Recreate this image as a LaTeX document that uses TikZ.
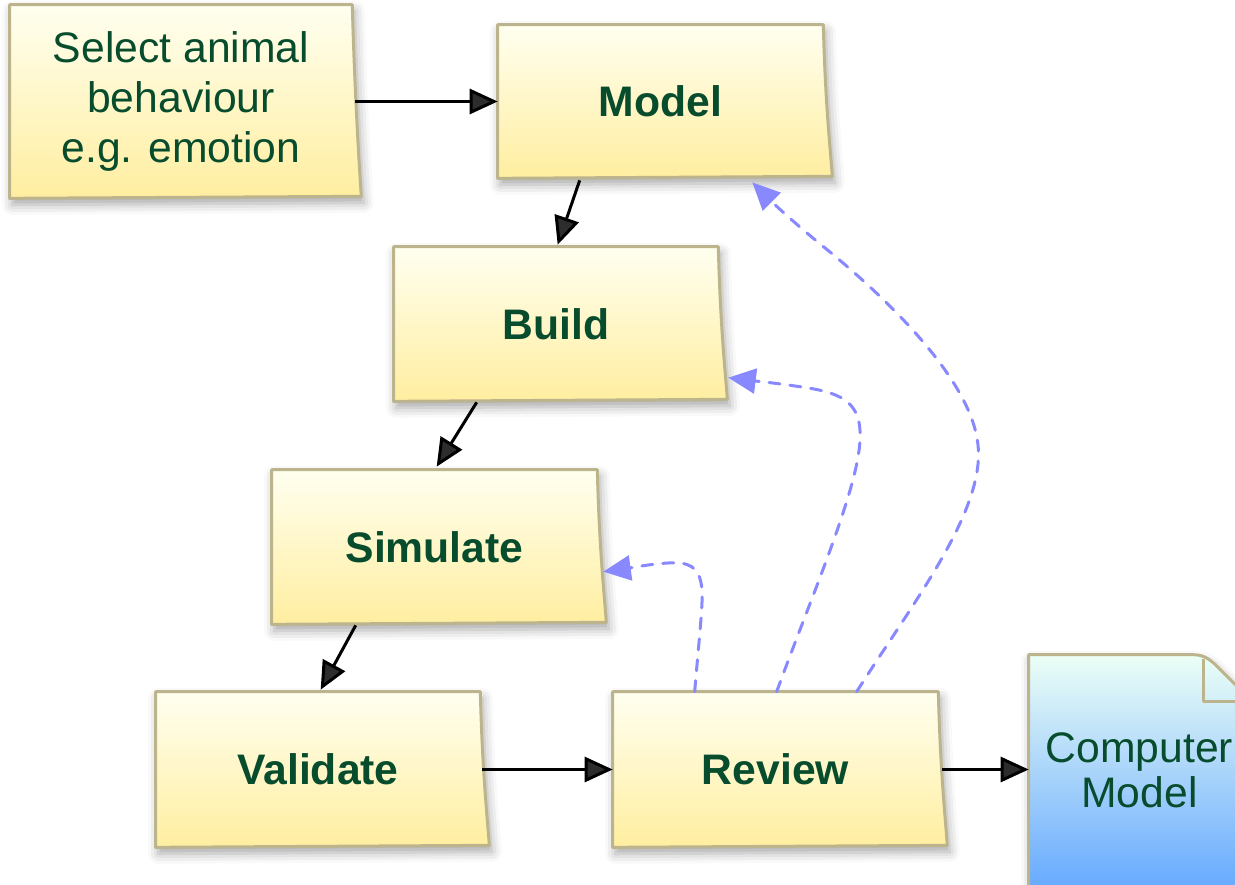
\documentclass[tikz,border=0pt]{standalone}
\usepackage{fontspec}
\setmainfont{Liberation Sans}
\usetikzlibrary{arrows.meta,calc,shadows.blur,backgrounds}

\definecolor{ink}{RGB}{8,76,46}
\definecolor{edge}{RGB}{188,180,140}
\definecolor{noteTop}{RGB}{255,255,240}
\definecolor{noteMid}{RGB}{255,252,224}
\definecolor{noteBot}{RGB}{255,238,160}
\definecolor{docTop}{RGB}{236,255,246}
\definecolor{docMid}{RGB}{160,240,255}
\definecolor{docBot}{RGB}{100,168,255}
\definecolor{loopblue}{RGB}{136,136,255}

% outline of a sticky note: straight top, right edge curling out at the bottom
\newcommand\notepath[1]{(#1.north west) -- (#1.north east)
  .. controls ($(#1.north east)+(2,80)$) and ($(#1.south east)+(7,-30)$) .. ($(#1.south east)+(9,-2)$)
  -- (#1.south west) -- cycle}

\tikzset{
  note/.style={inner sep=0pt, align=center, text=ink,
    font=\fontsize{24.3}{28.45}\selectfont},
  boldtitle/.style={font=\fontsize{24.3}{28.45}\selectfont\bfseries},
  notefill/.style={top color=noteTop, middle color=noteMid, bottom color=noteBot,
    draw=edge, line width=0.06cm, line join=round,
    blur shadow={shadow xshift=0.05cm, shadow yshift=-0.13cm,
      shadow blur radius=0.2cm, shadow opacity=35}},
  docfill/.style={top color=docTop, middle color=docMid, bottom color=docBot,
    draw=edge, line width=0.06cm, line join=round,
    blur shadow={shadow xshift=0.05cm, shadow yshift=-0.13cm,
      shadow blur radius=0.2cm, shadow opacity=35}},
  conn/.style={line width=0.06cm, -{Triangle[length=0.56cm,width=0.5cm]}},
  feedback/.style={loopblue, line width=0.06cm, line cap=round,
    dash pattern=on 0.22cm off 0.2cm, -{Triangle[length=0.55cm,width=0.5cm]}}
}

\begin{document}
\begin{tikzpicture}[x=0.02cm, y=-0.02cm]
\useasboundingbox (0,0) rectangle (1235,885);

% process steps
\node[note, minimum width=6.84cm, minimum height=3.86cm] (select) at (181,101.5)
  {Select animal\\behaviour\\e.g. emotion};
\node[note, boldtitle, minimum width=6.5cm, minimum height=3.06cm] (model) at (660.5,101.5) {Model};
\node[note, boldtitle, minimum width=6.48cm, minimum height=3.08cm] (build) at (556,324) {Build};
\node[note, boldtitle, minimum width=6.5cm, minimum height=3.08cm] (simulate) at (434.5,547) {Simulate};
\node[note, boldtitle, minimum width=6.48cm, minimum height=3.1cm] (validate) at (318,769.5) {Validate};
\node[note, boldtitle, minimum width=6.5cm, minimum height=3.1cm] (review) at (775.5,769.5) {Review};

% resulting document (its outline starts 7 units below the node's top)
\node[note, font=\fontsize{24.3}{25.5}\selectfont, minimum width=4.42cm, minimum height=4.9cm] (doc) at (1139.5,770.5)
  {Computer\\Model};

\begin{pgfonlayer}{background}
  \foreach \n in {select,model,build,simulate,validate,review}
    \path[notefill] \notepath{\n};
  \path[docfill] ($(doc.north west)+(0,7)$) -- ($(doc.north east)+(-58,7)$)
    .. controls ($(doc.north east)+(-48,7)$) and ($(doc.north east)+(-43,10)$) .. ($(doc.north east)+(-36,16)$)
    -- ($(doc.north east)+(0,52)$) -- (doc.south east) -- (doc.south west) -- cycle;
  \draw[edge, line width=0.06cm, line join=round]
    ($(doc.north east)+(-47,11)$) -- ($(doc.north east)+(-47,54)$) -- ($(doc.north east)+(0,54)$);
\end{pgfonlayer}

% main flow
\draw[conn] ([xshift=0.06cm]select.east) -- (model.west);
\draw[conn] ($(model.south west)+(82,2)$) -- ($(build.north west)+(164,-2)$);
\draw[conn] ($(build.south west)+(83,1)$) -- ($(simulate.north west)+(165,-3)$);
\draw[conn] ($(simulate.south west)+(84,1)$) -- ($(validate.north west)+(165,-2)$);
\draw[conn] ([xshift=0.04cm]validate.east) -- (review.west);
\draw[conn] ([xshift=0.08cm]review.east) -- (review.east -| doc.west);

% review feedback loops
\draw[feedback] ($(review.north west)+(82,0)$)
  .. controls (699,640) and (703,605) .. (702,590)
  .. controls (700,565) and (688,562) .. (668,563)
  .. controls (650,564) and (630,568) .. ($(simulate.north east)+(6,102)$);
\draw[feedback] ($(review.north west)+(164,0)$)
  .. controls (810,600) and (858,490) .. (860,440)
  .. controls (862,400) and (840,392) .. (795,386)
  .. controls (775,383) and (755,381) .. ($(build.north east)+(10,131)$);
\draw[feedback] ($(review.north west)+(244,0)$)
  .. controls (915,600) and (985,510) .. (978,445)
  .. controls (972,385) and (900,310) .. (830,252)
  .. controls (800,228) and (775,205) .. ($(model.south east)+(-71,4)$);
\end{tikzpicture}
\end{document}
